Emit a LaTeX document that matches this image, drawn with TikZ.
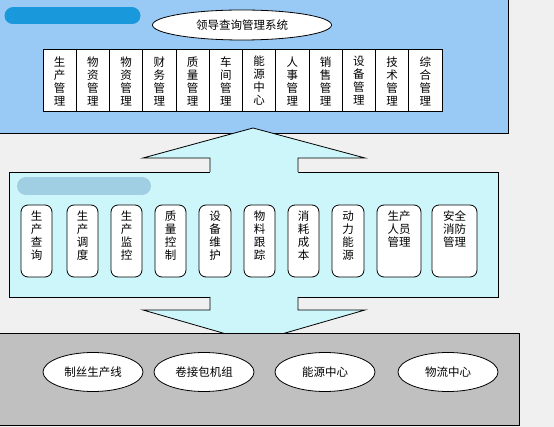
\documentclass[tikz,border=0pt]{standalone}
\usepackage{fontspec}
\newfontfamily\cjk{Noto Sans CJK SC}
\usetikzlibrary{shapes.geometric}
\definecolor{topblue}{RGB}{152,202,245}
\definecolor{midcyan}{RGB}{204,246,250}
\definecolor{botgrey}{RGB}{192,192,192}
\definecolor{smudgeA}{RGB}{25,152,220}
\definecolor{smudgeB}{RGB}{160,206,226}
\definecolor{bgwhite}{RGB}{240,240,240}
\tikzset{
  cjkfont/.style={font=\cjk\fontsize{11.5}{13}\selectfont},
  topcell/.style={draw=black, fill=white, line width=0.8pt},
  midcell/.style={draw=black, fill=white, rounded corners=7pt, line width=0.8pt},
  celltext/.style={cjkfont, align=center, inner sep=0pt},
  oval/.style={ellipse, draw=black, fill=white, line width=0.8pt, cjkfont, inner sep=0pt},
  panel/.style={draw=black, line width=0.9pt},
  arrowline/.style={draw=black, line width=0.8pt},
}
\begin{document}
\begin{tikzpicture}[x=1pt,y=-1pt]
\useasboundingbox (0,0) rectangle (554,427);
\fill[bgwhite] (0,0) rectangle (554,427);
% top panel
\path[panel, fill=topblue] (-3,-3) rectangle (508,133);
\draw[smudgeA, line width=17pt, line cap=round] (13,16) -- (132,16);
\node[oval, minimum width=179pt, minimum height=30pt] (title) at (242,25) {领导查询管理系统};
\foreach \i/\t in {0/生\\产\\管\\理, 1/物\\资\\管\\理, 2/物\\资\\管\\理, 3/财\\务\\管\\理, 4/质\\量\\管\\理, 5/车\\间\\管\\理, 6/能\\源\\中\\心, 7/人\\事\\管\\理, 8/销\\售\\管\\理, 9/设\\备\\管\\理, 10/技\\术\\管\\理, 11/综\\合\\管\\理}{
  \path[topcell] ({43+\i*33.25},49) rectangle ({43+(\i+1)*33.25},111);
  \node[celltext] (t\i) at ({43+(\i+0.5)*33.25},81) {\t};
}
% middle panel
\path[panel, fill=midcyan] (9,172) rectangle (498,297);
\draw[smudgeB, line width=18pt, line cap=round] (26,186) -- (142,186);
\foreach \i/\a/\b/\t in {0/21/52/生\\产\\查\\询, 1/67/98/生\\产\\调\\度, 2/111/142/生\\产\\监\\控, 3/155/186/质\\量\\控\\制, 4/199/231/设\\备\\维\\护, 5/244/275/物\\料\\跟\\踪, 6/288/319/消\\耗\\成\\本, 7/332/364/动\\力\\能\\源, 8/377/421/生产\\人员\\管理, 9/432/477/安全\\消防\\管理}{
  \path[midcell] (\a,205) rectangle (\b,277);
  \node[celltext, anchor=north] (m\i) at ({(\a+\b)/2},211) {\t};
}
% up arrow
\fill[midcyan] (210,173) -- (210,158) -- (143,158) -- (253,128) -- (365,158) -- (298,158) -- (298,173) -- cycle;
\draw[arrowline] (210,172) -- (210,158) -- (143,158) -- (253,128) -- (365,158) -- (298,158) -- (298,172);
% down arrow
\fill[midcyan] (210,296) -- (210,310) -- (143,310) -- (254,342) -- (365,310) -- (298,310) -- (298,296) -- cycle;
\draw[arrowline] (210,297) -- (210,310) -- (143,310) -- (254,342) -- (365,310) -- (298,310) -- (298,297);
% bottom panel
\path[panel, fill=botgrey] (-3,333) rectangle (519,425);
\node[oval, minimum width=100pt, minimum height=39pt] (b1) at (93,372) {制丝生产线};
\node[oval, minimum width=100pt, minimum height=39pt] (b2) at (204,372) {卷接包机组};
\node[oval, minimum width=100pt, minimum height=39pt] (b3) at (325,372) {能源中心};
\node[oval, minimum width=100pt, minimum height=39pt] (b4) at (448,372) {物流中心};
\end{tikzpicture}
\end{document}
